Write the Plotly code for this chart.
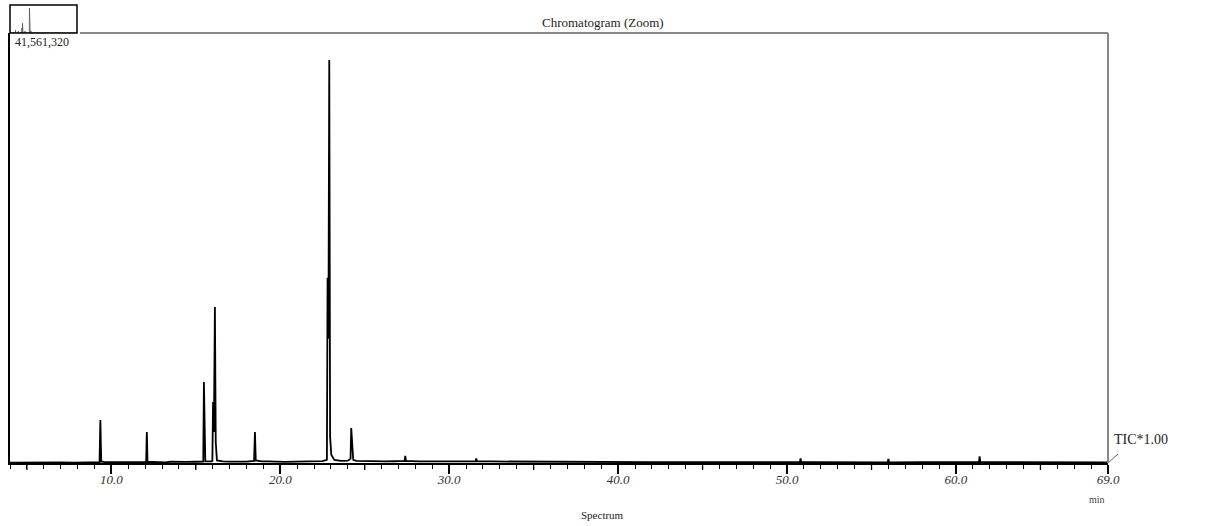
import plotly.graph_objects as go

# Retention time (min) and TIC intensity (counts)
rt = [4.0, 4.8, 5.5, 6.3, 7.0, 7.8, 8.5, 9.0, 9.3, 9.35, 9.4, 9.6, 10.3, 11.0, 11.6,
      12.06, 12.1, 12.14, 12.6, 13.2, 13.5, 13.9, 14.4, 15.0, 15.44, 15.48, 15.52, 15.56,
      15.94, 15.98, 16.02, 16.07, 16.13, 16.18, 16.25, 16.6, 17.0, 17.5, 18.0, 18.45, 18.5,
      18.55, 18.9, 19.3, 19.8, 20.3, 20.9, 21.5, 22.0, 22.5, 22.76, 22.8, 22.85, 22.9,
      22.95, 23.02, 23.2, 23.6, 24.0, 24.16, 24.2, 24.25, 24.32, 24.5, 25.0, 25.5, 26.2,
      26.8, 27.36, 27.4, 27.44, 28.2, 29.0, 29.8, 30.5, 31.2, 31.56, 31.6, 31.64, 32.5,
      33.2, 34.0, 34.8, 35.5, 36.5, 37.5, 38.5, 39.5, 40.5, 42.0, 44.0, 46.0, 48.0, 50.76,
      50.8, 50.84, 51.5, 53.0, 55.0, 55.96, 56.0, 56.04, 58.0, 60.0, 61.36, 61.4, 61.44,
      62.0, 64.0, 66.0, 68.0, 69.0]
intensity = [40000, 60000, 30000, 70000, 50000, 40000, 60000, 80000, 90000, 4160000,
             150000, 90000, 70000, 60000, 80000, 100000, 3000000, 120000, 80000, 70000,
             120000, 90000, 100000, 120000, 130000, 7830000, 4500000, 150000, 150000, 200000,
             5900000, 3000000, 15080000, 2000000, 250000, 150000, 130000, 110000, 140000,
             200000, 3000000, 250000, 150000, 160000, 130000, 110000, 140000, 150000, 160000,
             180000, 300000, 17900000, 12000000, 38950000, 2500000, 800000, 300000, 200000,
             220000, 400000, 3380000, 2200000, 300000, 200000, 170000, 190000, 150000, 170000,
             200000, 700000, 200000, 160000, 150000, 140000, 160000, 170000, 170000, 450000,
             170000, 150000, 140000, 150000, 130000, 150000, 120000, 110000, 100000, 100000,
             90000, 80000, 90000, 70000, 80000, 80000, 450000, 80000, 80000, 70000, 60000,
             70000, 400000, 70000, 80000, 90000, 90000, 650000, 90000, 80000, 70000, 70000,
             60000, 60000]

tick_vals = [10, 20, 30, 40, 50, 60, 69]
tick_text = ["10.0", "20.0", "30.0", "40.0", "50.0", "60.0", "69.0"]
mid_ticks = [5, 15, 25, 35, 45, 55, 65]
y_max = 41561320

W, H = 1210, 526
ml, mr, mt, mb = 10, 102, 5, 63
pw, ph = W - ml - mr, H - mt - mb
def px(x):
    return (x - ml) / pw
def py(y):
    return (H - mb - y) / ph

top_frac = py(33)

fig = go.Figure()
fig.add_trace(go.Scatter(x=rt, y=intensity, mode="lines",
                         line=dict(color="black", width=1.8), xaxis="x", yaxis="y",
                         hoverinfo="x+y", showlegend=False))
fig.add_trace(go.Scatter(x=rt, y=intensity, mode="lines",
                         line=dict(color="#555555", width=0.8), xaxis="x2", yaxis="y2",
                         showlegend=False, hoverinfo="skip"))

serif = "Liberation Serif, Times New Roman, serif"
shapes = [
    dict(type="line", xref="paper", yref="paper", x0=px(80), x1=1, y0=top_frac, y1=top_frac,
         line=dict(color="#888888", width=2)),
    dict(type="line", xref="paper", yref="paper", x0=1, x1=1, y0=0, y1=top_frac,
         line=dict(color="#888888", width=2)),
    dict(type="rect", xref="paper", yref="paper", x0=0, x1=px(77), y0=top_frac, y1=1,
         line=dict(color="black", width=1.5)),
    dict(type="line", xref="paper", yref="paper", x0=1, x1=px(1118), y0=0, y1=py(454),
         line=dict(color="#666666", width=1)),
]
# medium-length ticks at the 5-minute marks
for t in mid_ticks:
    shapes.append(dict(type="line", xref="x", yref="paper", x0=t, x1=t, y0=0, y1=py(470),
                       line=dict(color="black", width=1.3)))

def ann(text, x, y, size, xanchor="center", color="#222222"):
    return dict(text=text, xref="paper", yref="paper", x=px(x), y=py(y), xanchor=xanchor,
                yanchor="middle", showarrow=False, font=dict(size=size, color=color))

fig.update_layout(
    width=W, height=H,
    margin=dict(l=ml, r=mr, t=mt, b=mb),
    paper_bgcolor="white", plot_bgcolor="white",
    font=dict(family=serif, color="#222222"),
    xaxis=dict(domain=[0, 1], range=[4, 69], tickvals=tick_vals, ticktext=tick_text,
               ticks="outside", ticklen=9, tickwidth=1.5, tickcolor="black",
               ticklabelstandoff=-6,
               minor=dict(dtick=1, ticks="outside", ticklen=4, tickcolor="black", tickwidth=1),
               showline=True, linecolor="black", linewidth=2, showgrid=False, zeroline=False,
               tickfont=dict(family=serif, size=13, color="#333333", style="italic")),
    yaxis=dict(domain=[0, top_frac], range=[0, y_max], showticklabels=False, ticks="",
               showline=True, linecolor="black", linewidth=1.5, showgrid=False, zeroline=False),
    xaxis2=dict(domain=[0, px(77)], range=[4, 69], anchor="y2", visible=False),
    yaxis2=dict(domain=[top_frac, 1], range=[0, y_max * 1.05], anchor="x2", visible=False),
    shapes=shapes,
    annotations=[
        ann("Chromatogram (Zoom)", 603, 22, 13),
        ann("41,561,320", 13, 42, 12, xanchor="left"),
        ann("TIC*1.00", 1112, 439, 14, xanchor="left"),
        ann("Spectrum", 602, 515, 11),
        ann("min", 1097, 500, 10, color="#444444"),
    ],
)

fig.write_html("out.html")
